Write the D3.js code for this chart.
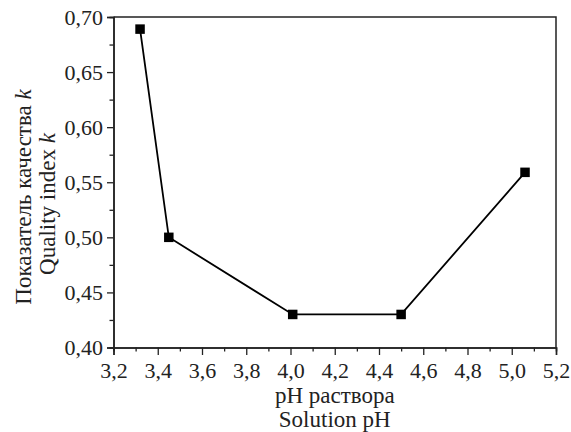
<!DOCTYPE html>
<html>
<head>
<meta charset="utf-8">
<script src="https://cdn.jsdelivr.net/npm/d3@7"></script>
<style>
  body { margin: 0; background: #fff; }
  svg text { font-family: "Liberation Serif", "Times New Roman", serif; fill: #222; }
</style>
</head>
<body>
<div id="chart"></div>
<script>
(function () {
  "use strict";

  // values
  let phValues = [3.32, 3.45, 4.01, 4.50, 5.06]
  let kValues = [0.689, 0.50, 0.43, 0.43, 0.559]
  let xTicks = [3.2, 3.4, 3.6, 3.8, 4.0, 4.2, 4.4, 4.6, 4.8, 5.0, 5.2]
  let yTicks = [0.40, 0.45, 0.50, 0.55, 0.60, 0.65, 0.70]

  let width = 571, height = 432
  let margin = {left: 113.5, right: 15, top: 17, bottom: 84.5}

  let svg = d3.select('#chart').append('svg')
    .attr('width', width)
    .attr('height', height)

  let x = d3.scaleLinear().domain([3.2, 5.2]).range([margin.left, width - margin.right])
  let y = d3.scaleLinear().domain([0.40, 0.70]).range([height - margin.bottom, margin.top])

  let comma = function(d, n){ return d.toFixed(n).replace('.', ',') }

  // minor ticks first
  svg.append('g')
    .attr('transform', `translate(0,${y(0.40)})`)
    .call(d3.axisBottom(x).tickValues(d3.range(3.3, 5.2, 0.2)).tickSize(4).tickFormat(''))
  svg.append('g')
    .attr('transform', `translate(${x(3.2)},0)`)
    .call(d3.axisLeft(y).tickValues(d3.range(0.425, 0.70, 0.05)).tickSize(4).tickFormat(''))

  let xAxis = svg.append('g')
    .attr('transform', `translate(0,${y(0.40)})`)
    .call(d3.axisBottom(x).tickValues(xTicks).tickSize(7.5).tickPadding(7).tickFormat(d => comma(d, 1)))
  let yAxis = svg.append('g')
    .attr('transform', `translate(${x(3.2)},0)`)
    .call(d3.axisLeft(y).tickValues(yTicks).tickSize(6.5).tickPadding(4).tickFormat(d => comma(d, 2)))

  svg.selectAll('g').attr('font-family', null)
  svg.selectAll('.domain').attr('stroke', '#222').attr('stroke-width', 1.5)
  svg.selectAll('.tick line').attr('stroke', '#222').attr('stroke-width', 1.3)
  xAxis.selectAll('text').attr('font-size', 22).attr('fill', '#222')
  yAxis.selectAll('text').attr('font-size', 22).attr('fill', '#222')

  // top and right frame
  svg.append('path')
    .attr('d', `M${x(3.2)},${y(0.70)}H${x(5.2)}V${y(0.40)}`)
    .attr('fill', 'none')
    .attr('stroke', '#222')
    .attr('stroke-width', 1.5)

  let pts = phValues.map(function(d, i){ return [d, kValues[i]] })

  svg.append('path')
    .datum(pts)
    .attr('d', d3.line().x(d => x(d[0])).y(d => y(d[1])))
    .attr('fill', 'none')
    .attr('stroke', '#000')
    .attr('stroke-width', 1.8)

  let sq = 9.5
  svg.selectAll('rect.pt')
    .data(pts)
    .enter().append('rect')
    .attr('class', 'pt')
    .attr('x', d => x(d[0]) - sq / 2)
    .attr('y', d => y(d[1]) - sq / 2)
    .attr('width', sq)
    .attr('height', sq)
    .attr('fill', '#000')

  // axis titles
  let cx = (x(3.2) + x(5.2)) / 2
  svg.append('text').attr('x', cx).attr('y', 403).attr('text-anchor', 'middle')
    .attr('font-size', 23).text('pH раствора')
  svg.append('text').attr('x', cx).attr('y', 427).attr('text-anchor', 'middle')
    .attr('font-size', 23).text('Solution pH')

  let t1 = svg.append('text')
    .attr('transform', 'translate(31,197) rotate(-90)')
    .attr('text-anchor', 'middle').attr('font-size', 23)
  t1.append('tspan').text('Показатель качества ')
  t1.append('tspan').attr('font-style', 'italic').text('k')
  let t2 = svg.append('text')
    .attr('transform', 'translate(55,204) rotate(-90)')
    .attr('text-anchor', 'middle').attr('font-size', 23)
  t2.append('tspan').text('Quality index ')
  t2.append('tspan').attr('font-style', 'italic').text('k')
}());
</script>
</body>
</html>
